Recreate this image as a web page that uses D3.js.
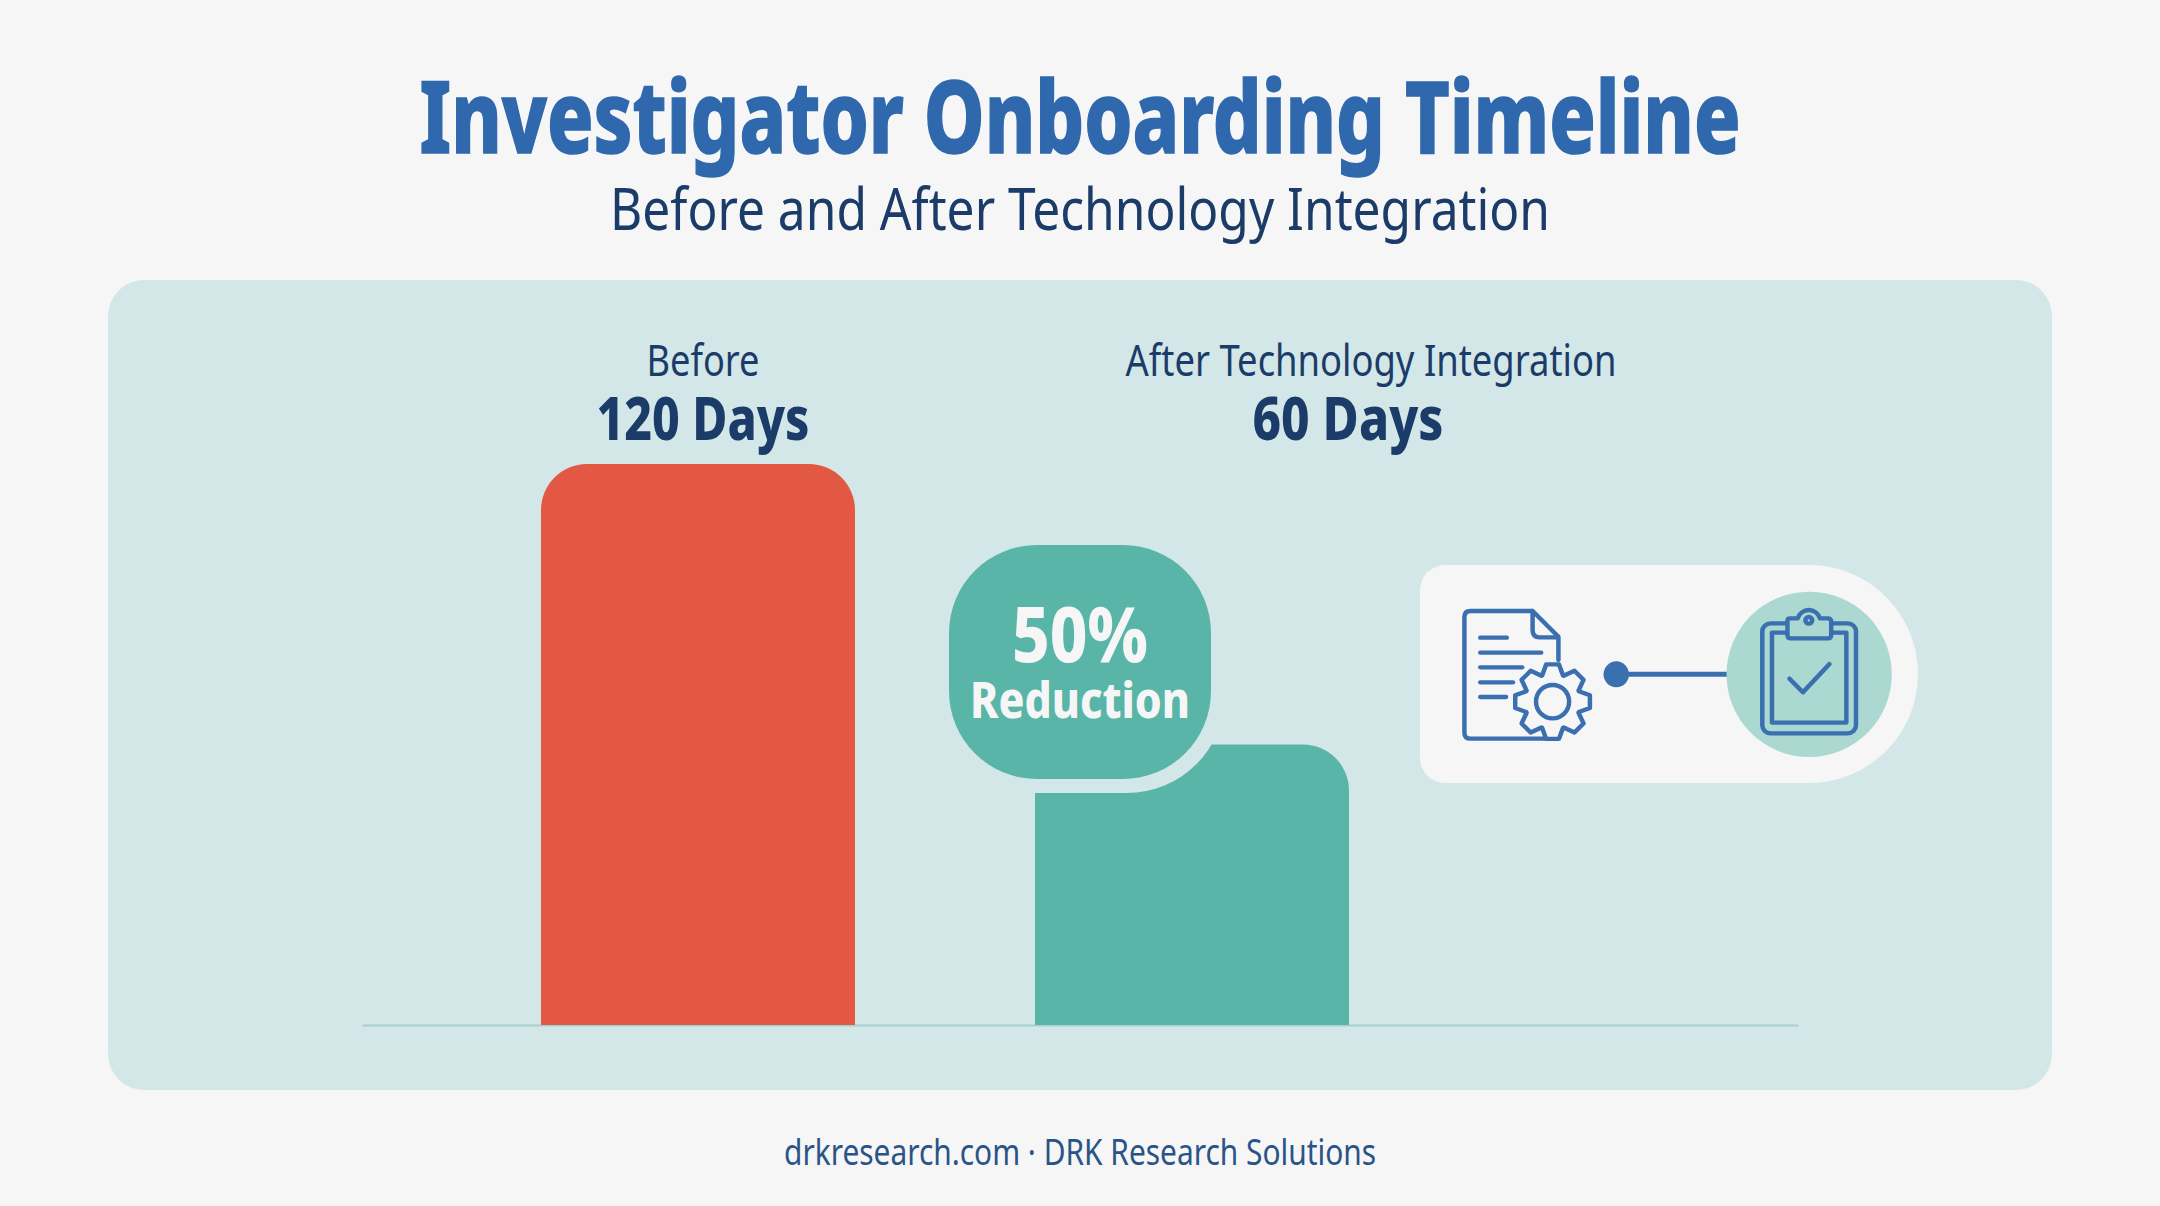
<!DOCTYPE html>
<html lang="en">
<head>
    <meta charset="UTF-8">
    <title>Investigator Onboarding Timeline</title>
    <script src="https://d3js.org/d3.v7.min.js"></script>
    <style>
        html, body { margin: 0; padding: 0; background: #f5f6f5; }
        svg { display: block; }
        text { font-family: "Noto Sans", "Open Sans", sans-serif; }
    </style>
</head>
<body>
    <svg width="2160" height="1206"></svg>

    <script>
        const categories = ["Before", "After Technology Integration"];
        const days = [120, 60];
        const valueLabels = ["120 Days", "60 Days"];
        const barColors = ["#e35842", "#58b5a8"];
        const titleText = "Investigator Onboarding Timeline";
        const subtitleText = "Before and After Technology Integration";
        const calloutBig = "50%";
        const calloutSmall = "Reduction";
        const footerText = "drkresearch.com \u00b7 DRK Research Solutions";

        const navy = "#1b3c68";
        const blue = "#3a6fb0";
        const panelColor = "#d3e7e8";
        const paper = "#f5f6f5";

        const svg = d3.select("svg");

        // squeezed to the measured width, the original face is a condensed one
        function label(x, y, str, size, weight, color, width) {
            return svg.append("text")
                .attr("x", x).attr("y", y)
                .attr("text-anchor", "middle")
                .attr("font-size", size)
                .attr("font-weight", weight)
                .attr("fill", color)
                .attr("textLength", width)
                .attr("lengthAdjust", "spacingAndGlyphs")
                .text(str);
        }

        // panel
        svg.append("rect")
            .attr("x", 108).attr("y", 280)
            .attr("width", 1944).attr("height", 810)
            .attr("rx", 36)
            .attr("fill", panelColor);

        label(1080, 153, titleText, 100, 800, "#2f68ad", 1321)
            .attr("stroke", "#2f68ad").attr("stroke-width", 1.5);
        label(1080, 230, subtitleText, 58, 400, navy, 940);

        // scales
        const x = d3.scaleBand()
            .domain(categories)
            .range([541, 1349])
            .paddingInner(0.3644);

        const y = d3.scaleLinear()
            .domain([0, 120])
            .range([1025, 464]);

        const axisX = d3.scaleLinear().range([362, 1798]);

        const axis = svg.append("g")
            .attr("transform", `translate(0,${y(0)})`)
            .call(d3.axisBottom(axisX).ticks(0).tickSize(0));
        axis.select(".domain").attr("stroke", "#a6cfcf").attr("stroke-width", 2);

        function topRounded(x0, x1, top, bottom, r) {
            const p = d3.path();
            p.moveTo(x0, bottom);
            p.lineTo(x0, top + r);
            p.arcTo(x0, top, x0 + r, top, r);
            p.lineTo(x1 - r, top);
            p.arcTo(x1, top, x1, top + r, r);
            p.lineTo(x1, bottom);
            p.closePath();
            return p.toString();
        }

        svg.append("g").selectAll("path")
            .data(days)
            .join("path")
            .attr("d", (d, i) => topRounded(x(categories[i]), x(categories[i]) + x.bandwidth(), y(d), y(0), 46))
            .attr("fill", (d, i) => barColors[i]);

        // bar labels
        const catX = [703, 1371];
        const catW = [113, 491];
        const valX = [703, 1348];
        const valW = [213, 191];
        categories.forEach((c, i) => {
            label(catX[i], 376, c, 43, 400, navy, catW[i]);
            label(valX[i], 440, valueLabels[i], 60, 800, navy, valW[i]);
        });

        // callout, the halo cuts the notch out of the second bar
        svg.append("rect")
            .attr("x", 935).attr("y", 531)
            .attr("width", 290).attr("height", 262)
            .attr("rx", 98)
            .attr("fill", panelColor);
        svg.append("rect")
            .attr("x", 949).attr("y", 545)
            .attr("width", 262).attr("height", 234)
            .attr("rx", 88)
            .attr("fill", barColors[1]);
        label(1080, 662, calloutBig, 76, 800, paper, 136);
        label(1080, 718, calloutSmall, 50, 800, paper, 220);

        // process card
        const card = d3.path();
        card.moveTo(1445, 565);
        card.lineTo(1809, 565);
        card.arcTo(1918, 565, 1918, 674, 109);
        card.arcTo(1918, 783, 1809, 783, 109);
        card.lineTo(1445, 783);
        card.arcTo(1420, 783, 1420, 758, 25);
        card.lineTo(1420, 590);
        card.arcTo(1420, 565, 1445, 565, 25);
        card.closePath();
        svg.append("path").attr("d", card.toString()).attr("fill", paper);

        // icons are drawn in the units of the crop of that card (2.904x by 3x)
        const icons = svg.append("g")
            .attr("transform", "translate(1400,550) scale(0.3444,0.3333)")
            .attr("fill", "none")
            .attr("stroke", blue)
            .attr("stroke-width", 13)
            .attr("stroke-linecap", "round")
            .attr("stroke-linejoin", "round");

        icons.append("line").attr("x1", 628).attr("y1", 373).attr("x2", 950).attr("y2", 373).attr("stroke-width", 15);
        icons.append("ellipse").attr("cx", 628).attr("cy", 373).attr("rx", 37).attr("ry", 39).attr("fill", blue).attr("stroke", "none");
        icons.append("ellipse").attr("cx", 1188).attr("cy", 373).attr("rx", 240).attr("ry", 248).attr("fill", "#acd8d2").attr("stroke", "none");

        // document
        icons.append("path").attr("d", "M385 183 H205 Q187 183 187 201 V548 Q187 566 205 566 H430 M385 183 L460 260 V330 M385 183 V240 Q385 262 405 262 H460");
        [[233, 310, 263], [233, 410, 308], [233, 355, 352], [233, 328, 397], [233, 308, 441]].forEach(l => {
            icons.append("line").attr("x1", l[0]).attr("x2", l[1]).attr("y1", l[2]).attr("y2", l[2]);
        });

        // gear
        const gearPts = [];
        const teeth = 8;
        for (let i = 0; i < teeth; i++) {
            const a = i * 2 * Math.PI / teeth - Math.PI / 2;
            [[-0.38, 82], [-0.17, 110], [0.17, 110], [0.38, 82]].forEach(o => {
                gearPts.push([443 + o[1] * Math.cos(a + o[0]), 455 + o[1] * 1.03 * Math.sin(a + o[0])]);
            });
        }
        icons.append("path")
            .attr("d", d3.line().curve(d3.curveLinearClosed)(gearPts))
            .attr("fill", paper);
        icons.append("ellipse").attr("cx", 443).attr("cy", 455).attr("rx", 48).attr("ry", 50);

        // clipboard
        icons.append("rect").attr("x", 1052).attr("y", 220).attr("width", 272).attr("height", 330).attr("rx", 24);
        icons.append("rect").attr("x", 1080).attr("y", 248).attr("width", 216).attr("height", 270);
        icons.append("path")
            .attr("d", "M1132 205 H1155 A33 33 0 0 1 1219 205 H1242 Q1252 205 1252 215 V255 Q1252 265 1242 265 H1135 Q1125 265 1125 255 V212 Q1125 205 1132 205 Z")
            .attr("fill", "#acd8d2");
        icons.append("ellipse").attr("cx", 1187).attr("cy", 211).attr("rx", 10).attr("ry", 10);
        icons.append("path").attr("d", "M1131 386 L1170 427 L1247 342");

        label(1080, 1165, footerText, 36, 400, "#2a5488", 592);
    </script>
</body>
</html>
